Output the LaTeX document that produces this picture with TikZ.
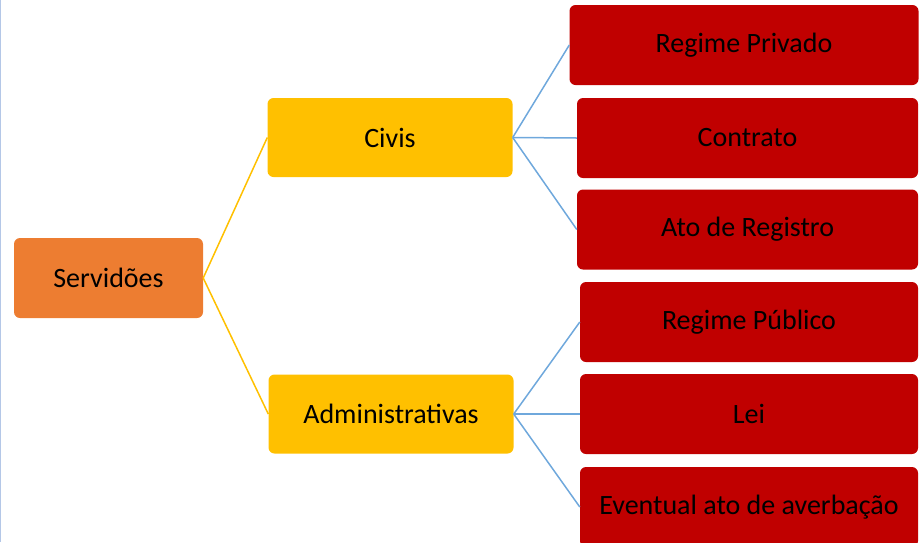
\documentclass[tikz,border=0pt]{standalone}
\usepackage{fontspec}
\setmainfont{Carlito}
\usepackage{xcolor}
\usepackage{tikz}
\definecolor{laranja}{HTML}{ED7D31}
\definecolor{amarelo}{HTML}{FFC000}
\definecolor{vermelho}{HTML}{C00000}
\definecolor{azul}{HTML}{6FA8DC}
\definecolor{borda}{HTML}{B4C7E7}
\tikzstyle{caixa} = [rectangle, rounded corners=6pt, inner sep=0pt,
minimum height=80pt, text=black, font=\fontsize{28}{32}\selectfont]
\tikzstyle{raiz} = [caixa, fill=laranja, minimum width=189pt]
\tikzstyle{ramo} = [caixa, fill=amarelo, minimum width=245pt, minimum height=79pt]
\tikzstyle{folha} = [caixa, fill=vermelho]
\tikzstyle{ligaA} = [draw=amarelo, line width=1.5pt]
\tikzstyle{ligaB} = [draw=azul, line width=1.5pt]

\begin{document}
\begin{tikzpicture}[x=1pt, y=-1pt]
        \useasboundingbox (0,0) rectangle (919,542);
        \clip (0,0) rectangle (919,542);
        \draw[borda, line width=2pt] (0,0) -- (0,542);
        % niveis
        \node [raiz] (servidoes) at (108.5,278) {Servidões};
        \node [ramo] (civis) at (390,137.5) {Civis};
        \node [ramo] (admin) at (391,414) {Administrativas};
        % folhas
        \node [folha, minimum width=349pt] (privado) at (744,45) {Regime Privado};
        \node [folha, minimum width=341pt] (contrato) at (747.5,138) {Contrato};
        \node [folha, minimum width=341pt] (registro) at (747.5,229.5) {Ato de Registro};
        \node [folha, minimum width=338pt] (publico) at (749,322) {Regime Público};
        \node [folha, minimum width=338pt] (lei) at (749,414) {Lei};
        \node [folha, minimum width=338pt] (averbacao) at (749,507) {Eventual ato de averbação};
        % ligacoes
        \draw [ligaA] (servidoes.east) -- (civis.west);
        \draw [ligaA] (servidoes.east) -- (admin.west);
        \foreach \f in {privado, contrato, registro}
            \draw [ligaB] (civis.east) -- (\f.west);
        \foreach \f in {publico, lei, averbacao}
            \draw [ligaB] (admin.east) -- (\f.west);
    \end{tikzpicture}
\end{document}
